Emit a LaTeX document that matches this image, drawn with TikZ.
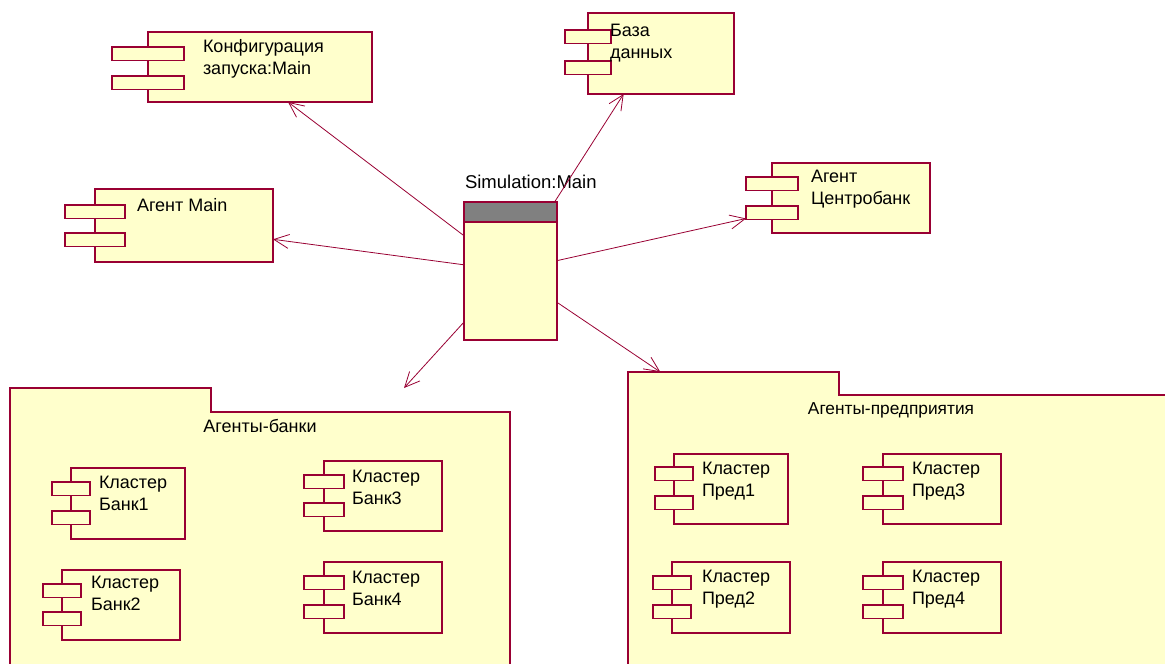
\documentclass[tikz,border=0pt]{standalone}
\usepackage{fontspec}
\setmainfont{Liberation Sans}
\usetikzlibrary{arrows.meta}
\definecolor{umlfill}{HTML}{FFFFCC}
\definecolor{umlline}{HTML}{990033}
\definecolor{umlhead}{HTML}{808080}
\tikzset{
  bboxnode/.style={inner sep=0pt, outer sep=0pt, draw=none, fill=none},
  compbody/.style={draw=umlline, fill=umlfill, line width=1.2pt},
  comptab/.style={draw=umlline, fill=umlfill, line width=1.2pt},
  pkgshape/.style={draw=umlline, fill=umlfill, line width=1.2pt},
  lbl/.style={anchor=base west, inner sep=0pt, outer sep=0pt, align=left,
    font=\fontsize{18}{22}\selectfont, text=black},
  lbltwo/.style={lbl, yshift=-22pt},
  ctrlbl/.style={anchor=base, inner sep=0pt, outer sep=0pt,
    font=\fontsize{18}{22}\selectfont, text=black},
  arr/.style={draw=umlline, line width=0.8pt,
    -{Straight Barb[length=15pt, width=14pt, line width=0.8pt]}},
}
% #1 name, #2 tab left, #3 body left, #4 body right, #5 top, #6 bottom, #7 tab1 top, #8 tab2 top
\newcommand\umlcomp[8]{%
  \node[bboxnode, minimum width={(#4-#2)*1pt}, minimum height={(#6-#5)*1pt}]
    (#1) at ({(#2+#4)/2},{(#5+#6)/2}) {};
  \draw[compbody] (#3,#5) rectangle (#4,#6);
  \draw[comptab] (#2,#7) rectangle ({2*#3-#2},{#7+13.5});
  \draw[comptab] (#2,#8) rectangle ({2*#3-#2},{#8+13.5});
}
\begin{document}
\begin{tikzpicture}[x=1pt, y=-1pt]
\path[use as bounding box, clip] (0,0) rectangle (1165,664);
\fill[white] (0,0) rectangle (1165,664);

% packages
\node[bboxnode, minimum width=500pt, minimum height=318pt] (banks) at (260,547) {};
\draw[pkgshape] (10,720) -- (10,388) -- (211,388) -- (211,412) -- (510,412) -- (510,720);
\node[ctrlbl] (banksl) at (260,432) {Агенты-банки};

\node[bboxnode, minimum width=536pt, minimum height=318pt] (firms) at (896,531) {};
\draw[pkgshape] (628,720) -- (628,372) -- (839,372) -- (839,395) -- (1175,395) -- (1175,720);
\node[ctrlbl, font=\fontsize{17.3}{22}\selectfont] (firmsl) at (891,414) {Агенты-предприятия};

% top components
\umlcomp{conf}{112}{148}{372}{32}{102}{47}{76}
\node[lbltwo] (confl) at (203,52) {Конфигурация\\запуска:Main};

\umlcomp{db}{565}{588}{734}{13}{94}{30}{61}
\node[lbltwo] (dbl) at (610,36) {База\\данных};

\umlcomp{agm}{65}{95}{273}{189}{262}{205}{233}
\node[lbl] (agml) at (137,211) {Агент Main};

\umlcomp{cb}{746}{772}{930}{163}{233}{177}{206}
\node[lbltwo] (cbl) at (811,182) {Агент\\Центробанк};

% clusters in banks
\umlcomp{b1}{52}{71}{185}{468}{539}{482}{511}
\node[lbltwo] (b1l) at (99,488) {Кластер\\Банк1};
\umlcomp{b2}{43}{62}{180}{570}{640}{584}{612}
\node[lbltwo] (b2l) at (91,588) {Кластер\\Банк2};
\umlcomp{b3}{304}{324}{442}{461}{531}{475}{503}
\node[lbltwo] (b3l) at (352,482) {Кластер\\Банк3};
\umlcomp{b4}{304}{324}{442}{562}{633}{576}{605}
\node[lbltwo] (b4l) at (352,583) {Кластер\\Банк4};

% clusters in firms
\umlcomp{p1}{655}{674}{788}{454}{524}{467}{496}
\node[lbltwo] (p1l) at (702,474) {Кластер\\Пред1};
\umlcomp{p2}{653}{672}{790}{562}{633}{576}{605}
\node[lbltwo] (p2l) at (702,582) {Кластер\\Пред2};
\umlcomp{p3}{863}{883}{1001}{454}{524}{467}{496}
\node[lbltwo] (p3l) at (912,474) {Кластер\\Пред3};
\umlcomp{p4}{863}{883}{1001}{562}{633}{576}{605}
\node[lbltwo] (p4l) at (912,582) {Кластер\\Пред4};

% Simulation:Main
\node[bboxnode, minimum width=93pt, minimum height=138pt] (sim) at (510.5,271) {};
\draw[compbody] (464,202) rectangle (557,340);
\draw[compbody, fill=umlhead] (464,202) rectangle (557,222);
\node[lbl, font=\fontsize{18.5}{22}\selectfont] (siml) at (465,188) {Simulation:Main};

% arrows
\draw[arr] (sim) -- (conf);
\draw[arr] (sim) -- (db);
\draw[arr] (sim) -- (agm);
\draw[arr] (sim) -- (cb);
\draw[arr] (sim) -- (banks);
\draw[arr] (sim) -- (firms);
\end{tikzpicture}
\end{document}
